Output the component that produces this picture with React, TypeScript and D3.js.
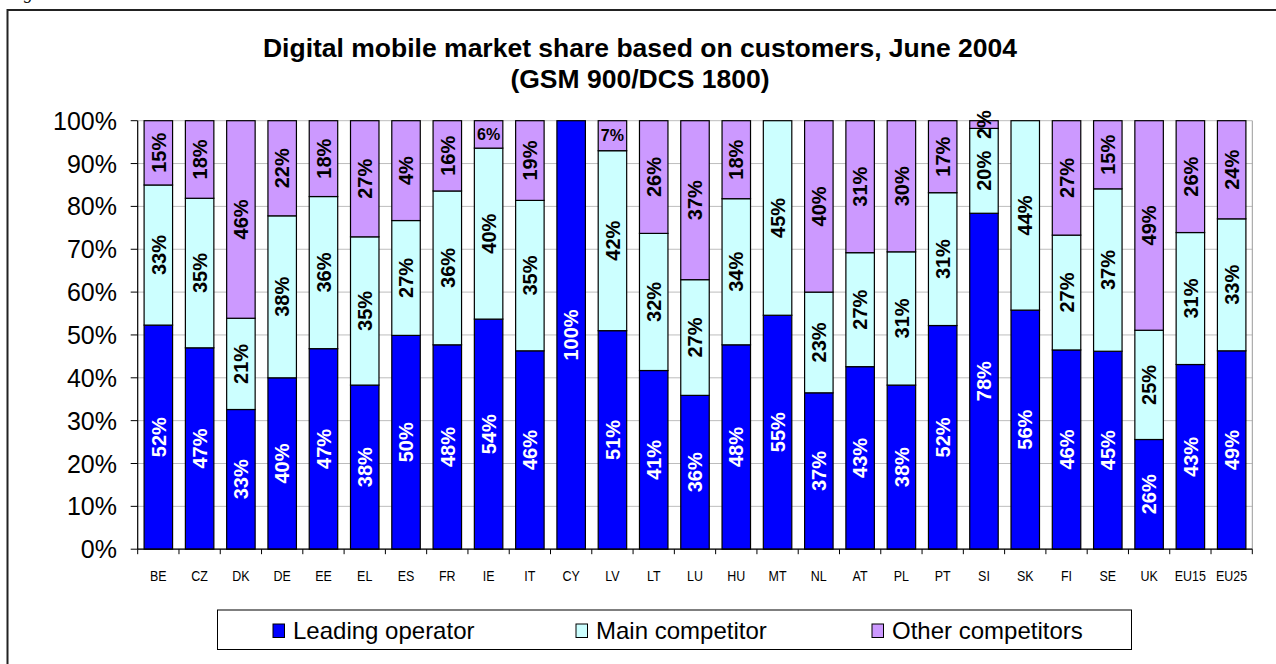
import React, { useEffect } from "react";
import * as d3 from "d3";

const categories = ["BE","CZ","DK","DE","EE","EL","ES","FR","IE","IT","CY","LV","LT","LU","HU","MT","NL","AT","PL","PT","SI","SK","FI","SE","UK","EU15","EU25"];
const leadingValues = [52.3,47.0,32.6,40.0,46.8,38.3,49.9,47.7,53.7,46.3,100,51.0,41.7,35.9,47.7,54.6,36.5,42.6,38.3,52.2,78.4,55.8,46.5,46.2,25.6,43.1,46.3];
const mainValues = [32.7,34.9,21.3,37.8,35.5,34.6,26.8,35.9,39.9,35.1,0,42.0,32.0,27.0,34.1,45.4,23.5,26.6,31.1,31.0,19.8,44.2,26.8,37.9,25.5,30.8,30.8];
const leadingLabels = ["52%","47%","33%","40%","47%","38%","50%","48%","54%","46%","100%","51%","41%","36%","48%","55%","37%","43%","38%","52%","78%","56%","46%","45%","26%","43%","49%"];
const mainLabels = ["33%","35%","21%","38%","36%","35%","27%","36%","40%","35%","","42%","32%","27%","34%","45%","23%","27%","31%","31%","20%","44%","27%","37%","25%","31%","33%"];
const otherLabels = ["15%","18%","46%","22%","18%","27%","4%","16%","6%","19%","","7%","26%","37%","18%","","40%","31%","30%","17%","2%","","27%","15%","49%","26%","24%"];
const seriesNames = ["Leading operator","Main competitor","Other competitors"];
const yTicks = [0,10,20,30,40,50,60,70,80,90,100];
const titleLines = ["Digital mobile market share based on customers, June 2004","(GSM 900/DCS 1800)"];

const colors = ["#0000FF","#CCFFFF","#CC99FF"];
const labelColors = ["#FFFFFF","#000000","#000000"];
const horizontalLabels = new Set(["IE","LV"]);
const FONT = "'Liberation Sans', Arial, sans-serif";

export default function App() {
  useEffect(() => {
    document.body.style.margin = "0";
  }, []);

  const W = 1276, H = 664;
  const left = 137.7, right = 1252.3, top = 120.7, bottom = 549.2;
  const x = d3.scaleBand<string>().domain(categories).range([left, right]).paddingInner(0.31).paddingOuter(0.155);
  const y = d3.scaleLinear().domain([0, 100]).range([bottom, top]);

  const rows = categories.map((c, i) => ({
    cat: c,
    s0: leadingValues[i],
    s1: mainValues[i],
    s2: Math.max(0, 100 - leadingValues[i] - mainValues[i]),
  }));
  const stack = d3.stack<any>().keys(["s0","s1","s2"])(rows as any);
  const labelArrays = [leadingLabels, mainLabels, otherLabels];

  const step = (right - left) / categories.length;
  const bw = x.bandwidth();

  const legendX = [273, 576, 872];

  return (
    <svg width={W} height={H} style={{ display: "block" }} fontFamily={FONT}>
      <rect x={0} y={0} width={W} height={H} fill="#fff" />
      {/* caption fragment above frame */}
      <text x={8} y={-1} fontFamily="'Liberation Serif', serif" fontStyle="italic" fontSize={18}>Figure 11:</text>
      {/* outer frame */}
      <path d={`M${W + 5},10 H7.5 V${H + 5}`} fill="none" stroke="#222" strokeWidth={2} />

      {/* title */}
      {titleLines.map((t, i) => (
        <text key={i} x={640} y={57 + i * 31} textAnchor="middle" fontWeight="bold" fontSize={26.5}>{t}</text>
      ))}

      {/* gridlines */}
      {yTicks.map(t => (
        <line key={t} x1={left} x2={right} y1={y(t)} y2={y(t)} stroke="#BDBDBD" strokeWidth={1} />
      ))}
      <line x1={right} x2={right} y1={top} y2={bottom} stroke="#9a9a9a" strokeWidth={1} />

      {/* bars */}
      {stack.map((layer, si) => (
        <g key={si}>
          {layer.map((d: any, i: number) => {
            const h = y(d[0]) - y(d[1]);
            if (h <= 0.01) return null;
            return (
              <rect key={i} x={x(categories[i])!} y={y(d[1])} width={bw} height={h}
                fill={colors[si]} stroke="#000" strokeWidth={1.2} />
            );
          })}
        </g>
      ))}

      {/* labels */}
      {stack.map((layer, si) => (
        <g key={"l" + si}>
          {layer.map((d: any, i: number) => {
            const lab = labelArrays[si][i];
            if (!lab) return null;
            const cx = x(categories[i])! + bw / 2;
            const cy = (y(d[0]) + y(d[1])) / 2;
            const horiz = si === 2 && horizontalLabels.has(categories[i]);
            if (horiz) {
              return (
                <text key={i} x={cx} y={cy} dy="0.36em" textAnchor="middle" fontWeight="bold" fontSize={16}
                  fill={labelColors[si]}>{lab}</text>
              );
            }
            return (
              <text key={i} transform={`translate(${cx},${cy}) rotate(-90)`} dy="0.36em" textAnchor="middle"
                fontWeight="bold" fontSize={20} fill={labelColors[si]}>{lab}</text>
            );
          })}
        </g>
      ))}

      {/* y axis */}
      <line x1={left} x2={left} y1={top} y2={bottom} stroke="#000" strokeWidth={1.2} />
      {yTicks.map(t => (
        <g key={"yt" + t}>
          <line x1={left - 7} x2={left} y1={y(t)} y2={y(t)} stroke="#000" strokeWidth={1} />
          <text x={117} y={y(t)} dy="0.36em" textAnchor="end" fontSize={25}>{t}%</text>
        </g>
      ))}

      {/* x axis */}
      <line x1={left} x2={right} y1={bottom} y2={bottom} stroke="#000" strokeWidth={1.2} />
      {d3.range(categories.length + 1).map(k => (
        <line key={"xt" + k} x1={left + k * step} x2={left + k * step} y1={bottom} y2={bottom + 5} stroke="#000" strokeWidth={1} />
      ))}
      {categories.map(c => (
        <text key={"xl" + c} x={x(c)! + bw / 2} y={581} textAnchor="middle" fontSize={14.5}
          transform={`translate(${x(c)! + bw / 2},0) scale(0.86,1) translate(${-(x(c)! + bw / 2)},0)`}>{c}</text>
      ))}

      {/* legend */}
      <rect x={217.5} y={610} width={914} height={39.5} fill="#fff" stroke="#000" strokeWidth={1} />
      {seriesNames.map((n, i) => (
        <g key={"lg" + i}>
          <rect x={legendX[i]} y={624} width={11.5} height={13.5} fill={colors[i]} stroke="#000" strokeWidth={1} />
          <text x={legendX[i] + 20} y={639} fontSize={24}>{n}</text>
        </g>
      ))}
    </svg>
  );
}
